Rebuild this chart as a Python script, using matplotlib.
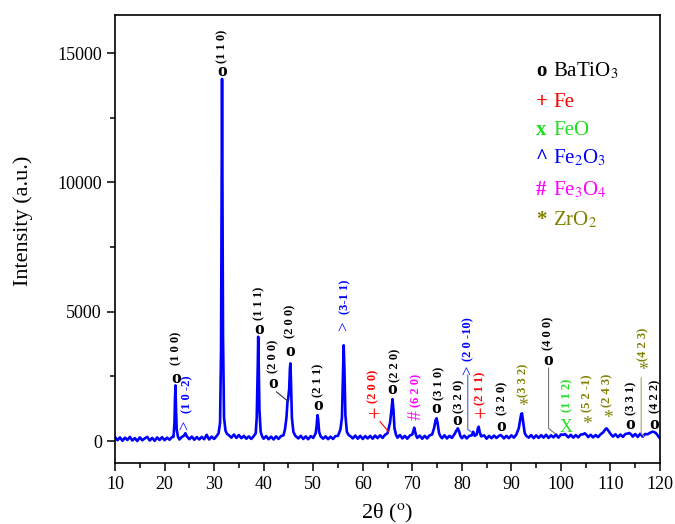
import numpy as np
import matplotlib.pyplot as plt

plt.rcParams['font.family'] = ['Liberation Serif', 'DejaVu Serif']
plt.rcParams['mathtext.fontset'] = 'stix'

# XRD pattern (2theta in degrees, intensity in a.u.)
two_theta = [
    10.0, 10.5, 11.0, 11.5, 12.0, 12.5, 13.0, 13.5, 14.0, 14.5, 15.0, 15.5,
    16.0, 16.5, 17.0, 17.5, 18.0, 18.5, 19.0, 19.5, 20.0, 20.5, 21.0, 21.5,
    21.8, 22.0, 22.1, 22.2, 22.3, 22.45, 22.7,
    23.0, 23.5, 23.9, 24.2, 24.5, 25.0, 25.5, 26.0, 26.5, 27.0,
    27.5, 28.0, 28.5, 28.8, 29.0, 29.5, 30.0, 30.5, 30.9,
    31.2, 31.4, 31.5, 31.6, 31.7, 31.8, 32.0, 32.3, 32.6,
    33.0, 33.5, 34.0, 34.5, 35.0, 35.5, 36.0, 36.5, 37.0, 37.5, 38.0, 38.4,
    38.6, 38.8, 38.9, 39.0, 39.15, 39.4, 39.7,
    40.0, 40.5, 41.0, 41.5, 42.0, 42.5, 43.0, 43.5, 44.0, 44.3,
    44.6, 44.8, 44.95, 45.15, 45.3, 45.4, 45.5, 45.7, 46.0, 46.4,
    47.0, 47.5, 48.0, 48.5, 49.0, 49.5, 50.0, 50.5,
    50.7, 50.85, 51.0, 51.2, 51.5,
    52.0, 52.5, 53.0, 53.5, 54.0, 54.5, 55.0, 55.5,
    55.8, 56.0, 56.15, 56.3, 56.5, 56.8, 57.2,
    57.5, 58.0, 58.5, 59.0, 59.5, 60.0, 60.5, 61.0, 61.5,
    62.0, 62.5, 63.0, 63.5, 64.0, 64.5, 65.0, 65.5,
    65.8, 66.0, 66.2, 66.4, 66.7,
    67.0, 67.5, 68.0, 68.5, 69.0, 69.5, 70.0,
    70.25, 70.4, 70.55, 70.8,
    71.0, 71.5, 72.0, 72.5, 73.0, 73.5, 74.0, 74.4,
    74.7, 74.9, 75.1, 75.4, 75.7,
    76.0, 76.5, 77.0, 77.5, 78.0, 78.5,
    78.9, 79.2, 79.4, 79.7,
    80.0, 80.5, 81.0, 81.5, 82.0, 82.3, 82.6,
    83.0, 83.25, 83.4, 83.6, 83.9,
    84.5, 85.0, 85.5, 86.0, 86.5, 87.0, 87.5, 87.8,
    88.1, 88.5, 89.0, 89.5, 90.0, 90.5, 91.0, 91.5,
    91.8, 92.0, 92.15, 92.4, 92.7, 93.0,
    93.5, 94.0, 94.5, 95.0, 95.5, 96.0, 96.5, 97.0, 97.5, 98.0,
    98.5, 99.0, 99.5, 100.0, 100.5, 100.8, 101.2, 101.5, 102.0, 102.5,
    103.0, 103.5, 104.0, 104.5, 104.8, 105.2, 105.5, 106.0, 106.5, 107.0,
    107.5, 108.0, 108.5, 109.0, 109.2, 109.5, 110.0, 110.5, 111.0, 111.5,
    112.0, 112.5, 113.0, 113.5, 113.8, 114.2, 114.5, 115.0, 115.5, 116.0,
    116.5, 117.0, 117.5, 118.0, 118.5, 118.8, 119.2, 119.6, 120.0,
]
intensity = [
    150, 30, 140, 10, 130, 40, 160, 20, 110, 0, 140, 30,
    100, 160, 20, 120, 10, 140, 40, 150, 30, 130, 50, 150,
    160, 700, 1600, 2150, 1300, 450, 170,
    60, 160, 200, 300, 180, 70, 170, 50, 150, 60,
    160, 70, 240, 120, 60, 170, 80, 190, 300,
    700, 3500, 9000, 14000, 9000, 4000, 900, 400, 280,
    220, 130, 250, 120, 230, 110, 200, 90, 180, 80, 190, 300,
    900, 2800, 4030, 3000, 1200, 350, 180,
    90, 190, 70, 170, 60, 180, 80, 190, 220, 450,
    900, 1500, 1650, 2000, 2800, 3000, 2400, 900, 350, 200,
    100, 200, 80, 180, 70, 190, 120, 300,
    600, 1000, 850, 350, 180,
    90, 180, 70, 170, 80, 190, 200, 450,
    900, 2500, 3700, 2800, 1000, 350, 220,
    190, 100, 210, 90, 200, 80, 190, 100, 200,
    90, 210, 110, 220, 120, 240, 300, 700,
    1200, 1620, 1200, 500, 250,
    130, 230, 100, 200, 90, 210, 250,
    420, 515, 380, 200,
    120, 210, 90, 200, 100, 220, 250, 500,
    800, 880, 700, 300, 180,
    110, 220, 100, 200, 120, 260,
    400, 490, 400, 200,
    110, 210, 100, 200, 220, 360, 200,
    250, 500, 555, 350, 180,
    220, 90, 200, 110, 210, 120, 200, 230,
    190, 100, 200, 110, 220, 130, 250, 500,
    850, 1050, 1070, 700, 300, 200,
    130, 230, 110, 220, 120, 230, 130, 240, 120, 220,
    140, 250, 130, 250, 240, 270, 200, 140, 240, 130,
    230, 140, 250, 260, 300, 230, 150, 240, 140, 230,
    150, 260, 330, 460, 490, 420, 280, 170, 260, 150,
    250, 160, 270, 290, 310, 250, 170, 270, 160, 280,
    170, 270, 260, 320, 360, 350, 300, 200, 100,
]
assert len(two_theta) == len(intensity)

# peak markers and Miller indices
mark_x = [22.3, 24.3, 31.7, 39.1, 41.95, 45.3, 51.0, 56.4, 62.3, 66.0, 70.75, 74.8,
          79.1, 81.3, 83.8, 88.0, 92.4, 97.5, 100.95, 105.3, 109.4, 113.9, 116.6, 118.8]
mark_y = [2400, 620, 14280, 4330, 2230, 3480, 1390, 4420, 915, 2000, 1000, 1260,
          785, 2745, 940, 555, 1350, 3130, 530, 620, 875, 620, 2745, 657]
mark_sym = ['o', '>', 'o', 'o', 'o', 'o', 'o', '>', '+', 'o', '#', 'o',
            'o', '>', '+', 'o', '*', 'o', 'X', '*', '*', 'o', '*', 'o']
hkl = ['(1 0 0)', '(1 0 -2)', '(1 1 0)', '(1 1 1)', '(2 0 0)', '(2 0 0)', '(2 1 1)',
       '(3-1 1)', '(2 0 0)', '(2 2 0)', '(6 2 0)', '(3 1 0)', '(3 2 0)', '(2 0 -10)',
       '(2 1 1)', '(3 2 0)', '(3 3 2)', '(4 0 0)', '(1 1 2)', '(5 2 -1)', '(2 4 3)',
       '(3 3 1)', '(4 2 3)', '(4 2 2)']
hkl_x = [22.3, 24.5, 31.7, 39.1, 41.95, 45.3, 51.0, 56.4, 62.1, 66.6, 70.75, 75.5,
         79.4, 81.3, 83.8, 88.2, 92.4, 97.5, 101.2, 105.3, 109.4, 114.3, 116.6, 119.0]
hkl_y = [2820, 930, 14470, 4560, 2490, 3840, 1585, 4760, 1330, 2165, 1200, 1470,
         940, 2940, 1276, 890, 1585, 3400, 1005, 1005, 1200, 890, 2940, 940]

phase_col = {'o': 'black', '+': '#FF0000', 'X': '#22DD22', '>': '#0000FF',
             '#': '#FF00FF', '*': '#808000'}

# leader lines from labels to peaks
lead_x = [[42.6, 45.0], [63.5, 65.2], [81.2, 81.2, 81.9], [97.5, 97.5, 98.8],
          [116.2, 116.2, 116.8]]
lead_y = [[1900, 1520], [750, 360], [2550, 450, 350], [2820, 490, 290],
          [2440, 310, 165]]
lead_col = ['#333333', '#FF0000', '#5555DD', '#777777', '#B0A070']

# phase key
phases = ['BaTiO$_3$', 'Fe', 'FeO', 'Fe$_2$O$_3$', 'Fe$_3$O$_4$', 'ZrO$_2$']
phase_sym = ['o', '+', 'x', '^', '#', '*']
phase_colors = ['black', '#FF0000', '#22DD22', '#0000FF', '#FF00FF', '#808000']

fig = plt.figure(figsize=(6.75, 5.24), dpi=100)
ax = fig.add_axes([0.1704, 0.1164, 0.8074, 0.855])

ax.plot(two_theta, intensity, color='#0000FF', lw=1.9)

for xs, ys, c in zip(lead_x, lead_y, lead_col):
    ax.plot(xs, ys, color=c, lw=0.8)

sym_size = {'o': 14, '>': 12, '+': 16, '#': 14, '*': 14, 'X': 13}
for i in range(len(mark_x)):
    s = mark_sym[i]
    c = phase_col[s]
    rot = 90 if s in '>#' else 0
    ax.text(mark_x[i], mark_y[i], s, color=c, fontsize=sym_size[s],
            fontweight='bold' if s == 'o' else 'normal',
            ha='center', va='center', rotation=rot)
    ax.annotate(hkl[i], xy=(hkl_x[i], hkl_y[i]), xytext=(0, 2.5),
                textcoords='offset points', color=c, fontsize=9, fontweight='bold',
                ha='center', va='bottom', rotation=90)

key_y = [0.864, 0.795, 0.732, 0.669, 0.598, 0.531]
for name, sym, c, yy in zip(phases, phase_sym, phase_colors, key_y):
    ax.text(0.7725, yy, sym, color=c, fontsize=15, fontweight='bold',
            transform=ax.transAxes, ha='left', va='baseline')
    ax.text(0.804, yy, name, color=c, fontsize=15,
            transform=ax.transAxes, ha='left', va='baseline')

ax.set_xlim(10, 120)
ax.set_ylim(-850, 16470)
ax.set_xticks(np.arange(10, 121, 10))
ax.set_xticks(np.arange(15, 120, 10), minor=True)
ax.set_yticks([0, 5000, 10000, 15000])
ax.set_yticks([2500, 7500, 12500], minor=True)
ax.tick_params(which='major', direction='out', length=6, width=1.1, labelsize=13)
ax.tick_params(which='minor', direction='out', length=3.5, width=1.1)
for sp in ax.spines.values():
    sp.set_linewidth(1.2)

ax.set_xlabel('2θ ($^{\\mathrm{o}}$)', fontsize=16)
ax.set_ylabel('Intensity (a.u.)', fontsize=16)
ax.xaxis.set_label_coords(0.5, -0.087)
ax.yaxis.set_label_coords(-0.15, 0.54)

fig.savefig('out.png', dpi=100)
